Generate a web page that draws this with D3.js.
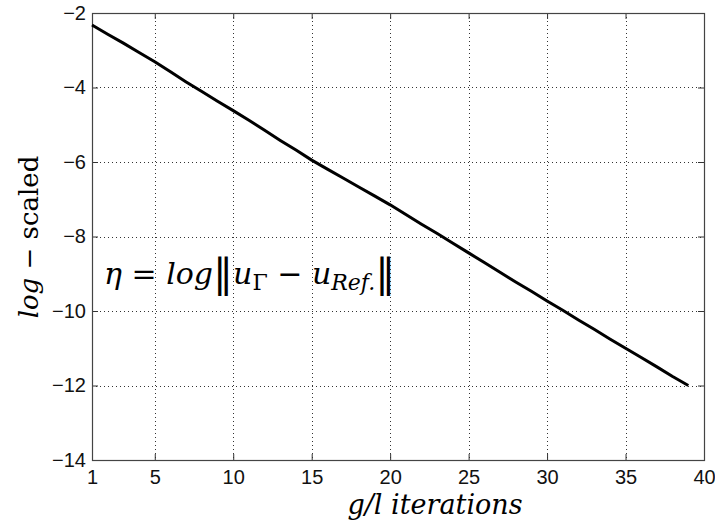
<!DOCTYPE html>
<html>
<head>
<meta charset="utf-8">
<script src="https://cdn.jsdelivr.net/npm/d3@7/dist/d3.min.js"></script>
<style>
  body { margin: 0; background: #fff; }
  svg { display: block; }
</style>
</head>
<body>
<svg id="chart" width="715" height="527"></svg>
<script>
const iterations = [1,2,3,4,5,6,7,8,9,10,11,12,13,14,15,16,17,18,19,20,21,22,23,24,25,26,27,28,29,30,31,32,33,34,35,36,37,38,39];
const etaValues = [-2.32,-2.57,-2.81,-3.06,-3.31,-3.58,-3.85,-4.11,-4.37,-4.62,-4.88,-5.15,-5.42,-5.68,-5.95,-6.19,-6.43,-6.67,-6.91,-7.15,-7.41,-7.67,-7.92,-8.18,-8.44,-8.70,-8.96,-9.22,-9.47,-9.73,-9.98,-10.24,-10.49,-10.75,-11.00,-11.25,-11.50,-11.76,-12.00];
const xTicks = [1,5,10,15,20,25,30,35,40];
const yTicks = [-2,-4,-6,-8,-10,-12,-14];

const svg = d3.select("#chart");
const m = {left: 92, top: 13, right: 704, bottom: 460};
const x = d3.scaleLinear().domain([1, 40]).range([m.left, m.right]);
const y = d3.scaleLinear().domain([-14, -2]).range([m.bottom, m.top]);
const W = m.right - m.left, H = m.bottom - m.top;
const serif = "DejaVu Serif, Liberation Serif, serif";

// grid
const grid = svg.append("g").attr("stroke", "#333").attr("stroke-width", 1).attr("stroke-dasharray", "1,3");
xTicks.filter(d => d > 1 && d < 40).forEach(d => {
  grid.append("line").attr("x1", Math.round(x(d)) + 0.5).attr("x2", Math.round(x(d)) + 0.5)
    .attr("y1", m.top).attr("y2", m.bottom);
});
yTicks.filter(d => d > -14 && d < -2).forEach(d => {
  grid.append("line").attr("y1", Math.round(y(d)) + 0.5).attr("y2", Math.round(y(d)) + 0.5)
    .attr("x1", m.left).attr("x2", m.right);
});

// axes (ticks inward, MATLAB-like)
const fmt = d => d < 0 ? "\u2212" + Math.abs(d) : String(d);
const xAxis = svg.append("g").attr("transform", `translate(0,${m.bottom})`)
  .call(d3.axisBottom(x).tickValues(xTicks).tickSizeInner(-6).tickSizeOuter(0).tickPadding(10).tickFormat(fmt));
const xTop = svg.append("g").attr("transform", `translate(0,${m.top})`)
  .call(d3.axisTop(x).tickValues(xTicks).tickSizeInner(-6).tickSizeOuter(0).tickFormat(""));
const yAxis = svg.append("g").attr("transform", `translate(${m.left},0)`)
  .call(d3.axisLeft(y).tickValues(yTicks).tickSizeInner(-6).tickSizeOuter(0).tickPadding(6).tickFormat(fmt));
const yRight = svg.append("g").attr("transform", `translate(${m.right},0)`)
  .call(d3.axisRight(y).tickValues(yTicks).tickSizeInner(-6).tickSizeOuter(0).tickFormat(""));
[xAxis, xTop, yAxis, yRight].forEach(g => {
  g.select(".domain").remove();
  g.selectAll("line").attr("stroke", "#333");
  g.selectAll("text").attr("font-family", "Liberation Sans, Arial, sans-serif").attr("font-size", 20).attr("fill", "#111");
});

// frame
svg.append("rect").attr("x", m.left + 0.5).attr("y", m.top + 0.5).attr("width", W).attr("height", H)
  .attr("fill", "none").attr("stroke", "#444").attr("stroke-width", 1.2);

// data line
const line = d3.line().x((d, i) => x(iterations[i])).y(d => y(d));
svg.append("path").datum(etaValues).attr("d", line)
  .attr("fill", "none").attr("stroke", "#000").attr("stroke-width", 3).attr("stroke-linejoin", "round");

// annotation
const ann = svg.append("text").attr("x", 104).attr("y", 284)
  .attr("font-family", serif).attr("font-size", 30).attr("fill", "#000");
ann.append("tspan").attr("font-style", "italic").text("\u03B7");
ann.append("tspan").text(" = ");
ann.append("tspan").attr("font-style", "italic").text("log");
ann.append("tspan").attr("font-size", 40).attr("dy", 3).text("\u2016");
ann.append("tspan").attr("dy", -3).attr("font-style", "italic").text("u");
ann.append("tspan").attr("font-size", 22).attr("dy", 6).text("\u0393");
ann.append("tspan").attr("dy", -6).text(" \u2212 ");
ann.append("tspan").attr("font-style", "italic").text("u");
ann.append("tspan").attr("font-size", 22).attr("dy", 6).attr("font-style", "italic").text("Ref.");
ann.append("tspan").attr("font-size", 40).attr("dy", -3).text("\u2016");

// x label
svg.append("text").attr("x", 435).attr("y", 514).attr("text-anchor", "middle")
  .attr("font-family", serif).attr("font-size", 27).attr("font-style", "italic").attr("fill", "#000")
  .text("g/l iterations");

// y label
const yl = svg.append("text").attr("transform", "translate(38,237) rotate(-90)").attr("text-anchor", "middle")
  .attr("font-family", serif).attr("font-size", 26).attr("fill", "#000");
yl.append("tspan").attr("font-style", "italic").text("log");
yl.append("tspan").text(" \u2212 scaled");
</script>
</body>
</html>
